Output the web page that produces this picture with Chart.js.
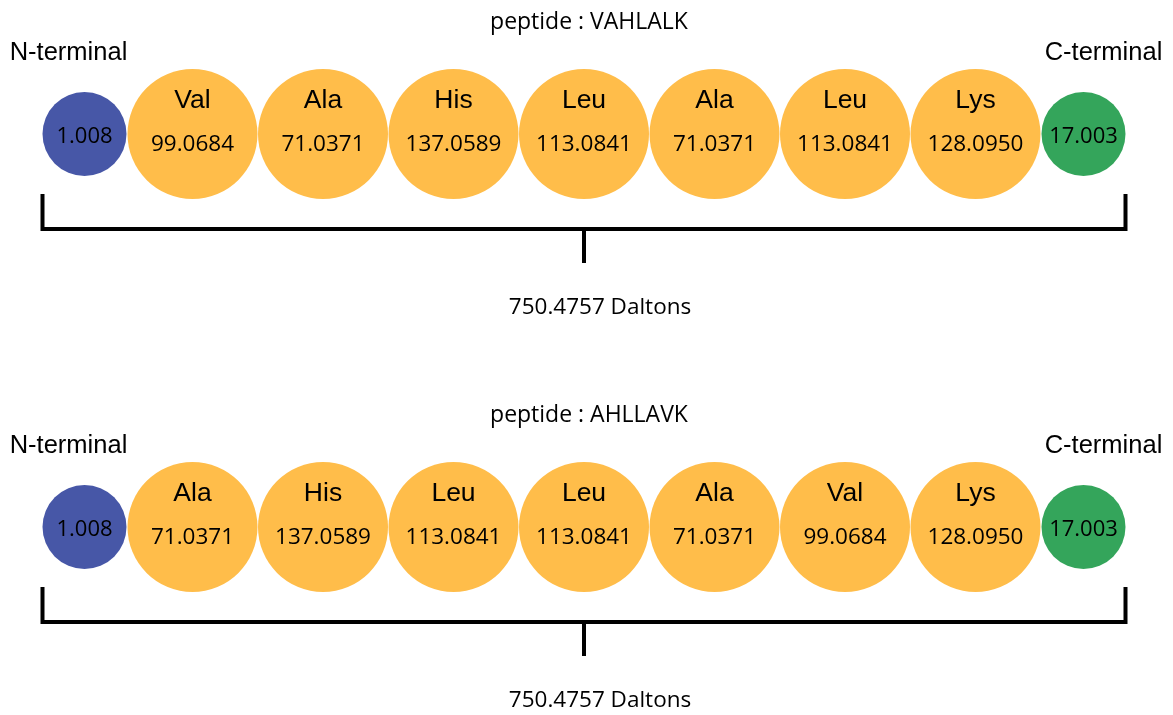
<!DOCTYPE html>
<html><head><meta charset="utf-8">
<script src="https://cdn.jsdelivr.net/npm/chart.js@4"></script>
<style>html,body{margin:0;padding:0;background:#fff;overflow:hidden}#wrap{width:1173px;height:715px;position:relative}</style>
</head><body><div id="wrap"><canvas id="c"></canvas></div>
<script>
// ---- data ----
const peptides = ['VAHLALK', 'AHLLAVK'];
const residues1 = ['Val', 'Ala', 'His', 'Leu', 'Ala', 'Leu', 'Lys'];
const masses1 = [99.0684, 71.0371, 137.0589, 113.0841, 71.0371, 113.0841, 128.0950];
const residues2 = ['Ala', 'His', 'Leu', 'Leu', 'Ala', 'Val', 'Lys'];
const masses2 = [71.0371, 137.0589, 113.0841, 113.0841, 71.0371, 99.0684, 128.0950];
const nTermMass = 1.008;
const cTermMass = 17.003;
const totalMasses = [750.4757, 750.4757];

// ---- layout / style ----
const W = 1173, H = 715;
const SLOT_PX = 130.5, ORIGIN_X = 192.5, ROW0_Y = 134, ROW_GAP = 393;
const R_Y = 65, R_T = 42;
const BLUE = '#4757a7', YELLOW = '#ffbd4a', GREEN = '#34a55b';
const px2x = d => d / SLOT_PX;
const px2y = d => d / ROW_GAP;
const termOffset = px2x(R_Y + R_T + 1);

const rows = [
  { peptide: peptides[0], names: residues1, masses: masses1, total: totalMasses[0] },
  { peptide: peptides[1], names: residues2, masses: masses2, total: totalMasses[1] }
];

const datasets = [];
rows.forEach((row, r) => {
  const n = row.names.length;
  const xN = -termOffset, xC = n - 1 + termOffset;
  datasets.push({ type: 'bubble', data: [{ x: xN, y: r }], backgroundColor: BLUE, radius: R_T, borderWidth: 0 });
  datasets.push({ type: 'bubble', data: row.names.map((_, i) => ({ x: i, y: r })), backgroundColor: YELLOW, radius: R_Y, borderWidth: 0 });
  datasets.push({ type: 'bubble', data: [{ x: xC, y: r }], backgroundColor: GREEN, radius: R_T, borderWidth: 0 });
  const L = xN - px2x(R_T), R = xC + px2x(R_T), M = (L + R) / 2;
  const lineStyle = { type: 'line', borderColor: '#000', borderWidth: 4, pointRadius: 0, fill: false, tension: 0, borderJoinStyle: 'miter', borderCapStyle: 'butt' };
  datasets.push(Object.assign({}, lineStyle, { data: [
    { x: L, y: r + px2y(60) }, { x: L, y: r + px2y(95) }, { x: R, y: r + px2y(95) }, { x: R, y: r + px2y(60) }
  ] }));
  datasets.push(Object.assign({}, lineStyle, { data: [
    { x: M, y: r + px2y(95) }, { x: M, y: r + px2y(129) }
  ] }));
});

const textPlugin = {
  id: 'peptideText',
  afterDraw(chart) {
    const ctx = chart.ctx;
    const xs = chart.scales.x, ys = chart.scales.y;
    ctx.save();
    ctx.fillStyle = '#000';
    ctx.textAlign = 'center';
    ctx.textBaseline = 'alphabetic';
    rows.forEach((row, r) => {
      const n = row.names.length;
      const cy = ys.getPixelForValue(r);
      const xN = xs.getPixelForValue(-termOffset);
      const xC = xs.getPixelForValue(n - 1 + termOffset);
      const mid = (xN - R_T + xC + R_T) / 2;
      ctx.font = '23px "Open Sans"';
      ctx.fillText('peptide : ' + row.peptide, mid + 5, cy - 105);
      ctx.font = '22.5px "Open Sans"';
      ctx.fillText(row.total.toFixed(4) + ' Daltons', mid + 16, cy + 180);
      ctx.font = '25.5px "Liberation Sans"';
      ctx.fillText('N-terminal', xN - 16, cy - 74);
      ctx.fillText('C-terminal', xC + 20, cy - 74);
      row.names.forEach((nm, i) => {
        const x = xs.getPixelForValue(i);
        ctx.font = '26.5px "Liberation Sans"';
        ctx.fillText(nm, x, cy - 26);
        ctx.font = '22.5px "Open Sans"';
        ctx.fillText(row.masses[i].toFixed(4), x, cy + 17);
      });
      ctx.font = '22px "Open Sans"';
      ctx.fillText(nTermMass.toFixed(3), xN, cy + 9);
      ctx.fillText(cTermMass.toFixed(3), xC, cy + 9);
    });
    ctx.restore();
  }
};

new Chart(document.getElementById('c'), {
  type: 'bubble',
  data: { datasets },
  options: {
    responsive: true,
    maintainAspectRatio: false,
    animation: false,
    events: [],
    layout: { padding: 0, autoPadding: false },
    plugins: { legend: { display: false }, tooltip: { enabled: false } },
    scales: {
      x: { type: 'linear', display: false, min: -ORIGIN_X / SLOT_PX, max: (W - ORIGIN_X) / SLOT_PX },
      y: { type: 'linear', display: false, reverse: true, min: -ROW0_Y / ROW_GAP, max: (H - ROW0_Y) / ROW_GAP }
    }
  },
  plugins: [textPlugin]
});
</script>
</body></html>
